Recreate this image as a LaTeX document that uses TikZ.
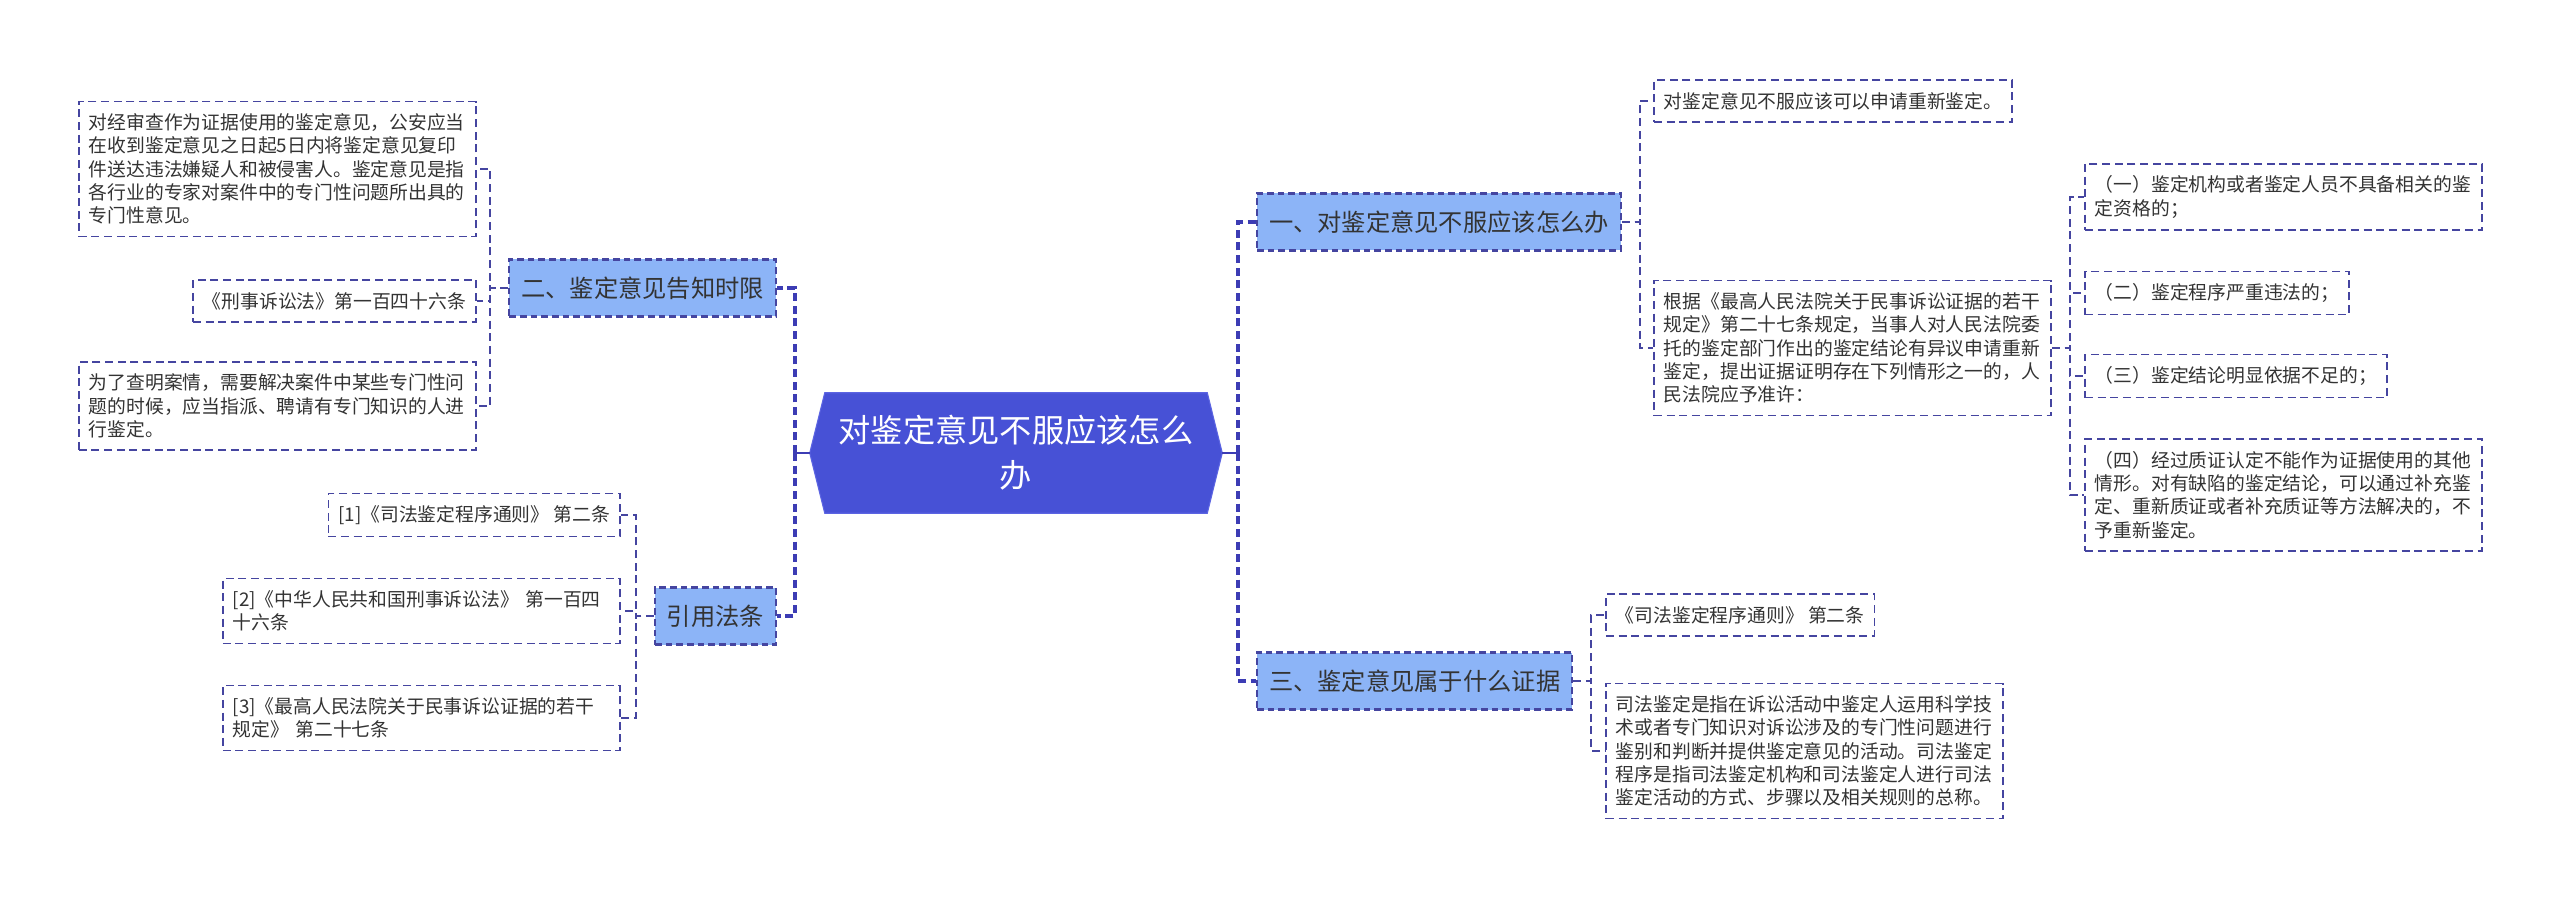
\documentclass[tikz,border=0pt]{standalone}
\usepackage{fontspec}
\usepackage{xcolor}
\usepackage{tikz}
\usetikzlibrary{calc,backgrounds,positioning}
\newfontfamily\cjk{Noto Sans CJK SC}
\definecolor{bg}{HTML}{FFFFFF}
\definecolor{rootfill}{HTML}{4751D6}
\definecolor{rootedge}{HTML}{5B64E2}
\definecolor{topicfill}{HTML}{8CB4F7}
\definecolor{edge}{HTML}{4545A0}
\definecolor{trunkc}{HTML}{3C3CB4}
\definecolor{ink}{HTML}{333333}
\tikzset{
  root/.style={minimum width=286.5pt, minimum height=90pt, inner sep=0pt, align=center, text=white, font=\cjk\fontsize{24.2pt}{33.75pt}\selectfont},
  rootshape/.style={fill=rootfill, draw=rootedge, line width=0.8pt},
  topic/.style={draw=edge, fill=topicfill, dash pattern=on 5pt off 3pt, line width=1.6pt, minimum height=42.75pt, inner xsep=9pt, text=ink, font=\cjk\fontsize{18.2pt}{22pt}\selectfont},
  leaf/.style={draw=edge, dash pattern=on 6pt off 3.5pt, line width=1.3pt, inner xsep=7.5pt, inner ysep=9pt, align=left, text=ink, font=\cjk\fontsize{14.1pt}{17.5pt}\selectfont},
  wide/.style={text width=283pt},
  trunk/.style={draw=trunkc, line width=2.3pt, dash pattern=on 6pt off 3.5pt},
  rootlink/.style={draw=trunkc, line width=1.6pt},
  link/.style={draw=edge, line width=1.3pt, dash pattern=on 6pt off 3.5pt},
}
\begin{document}
\begin{tikzpicture}[x=0.75pt, y=-0.75pt]
\useasboundingbox (0,0) rectangle (2560,898);

% centre
\node[root] (root) at (1016,453) {对鉴定意见不服应该怎么\\办};
\begin{scope}[on background layer]
\fill[bg] (0,0) rectangle (2560,898);
\filldraw[rootshape] (root.north west) -- (root.north east) -- ($(root.east)+(15,0)$)
  -- (root.south east) -- (root.south west) -- ($(root.west)+(-15,0)$) -- cycle;
\end{scope}
\coordinate (rootL) at ($(root.west)+(-15,0)$);
\coordinate (rootR) at ($(root.east)+(15,0)$);

% topics
\node[topic, anchor=east] (n2) at (777,288) {二、鉴定意见告知时限};
\node[topic, anchor=east] (n4) at (777,616) {引用法条};
\node[topic, anchor=west] (n1) at (1256,222) {一、对鉴定意见不服应该怎么办};
\node[topic, anchor=west] (n3) at (1256,681) {三、鉴定意见属于什么证据};

% left leaves
\node[leaf, wide, anchor=east] (l1) at (477,169) {对经审查作为证据使用的鉴定意见，公安应当\\在收到鉴定意见之日起5日内将鉴定意见复印\\件送达违法嫌疑人和被侵害人。鉴定意见是指\\各行业的专家对案件中的专门性问题所出具的\\专门性意见。};
\node[leaf, anchor=east] (l2) at (477,301) {《刑事诉讼法》第一百四十六条};
\node[leaf, wide, anchor=east] (l3) at (477,406) {为了查明案情，需要解决案件中某些专门性问\\题的时候，应当指派、聘请有专门知识的人进\\行鉴定。};
\node[leaf, anchor=east] (r1) at (621,515) {[1]《司法鉴定程序通则》 第二条};
\node[leaf, wide, anchor=east] (r2) at (621,611) {[2]《中华人民共和国刑事诉讼法》 第一百四\\十六条};
\node[leaf, wide, anchor=east] (r3) at (621,718) {[3]《最高人民法院关于民事诉讼证据的若干\\规定》 第二十七条};

% right leaves
\node[leaf, anchor=west] (a1) at (1653,101) {对鉴定意见不服应该可以申请重新鉴定。};
\node[leaf, wide, anchor=west] (a2) at (1653,348) {根据《最高人民法院关于民事诉讼证据的若干\\规定》第二十七条规定，当事人对人民法院委\\托的鉴定部门作出的鉴定结论有异议申请重新\\鉴定，提出证据证明存在下列情形之一的，人\\民法院应予准许：};
\node[leaf, wide, anchor=west] (b1) at (2084,197) {（一）鉴定机构或者鉴定人员不具备相关的鉴\\定资格的；};
\node[leaf, anchor=west] (b2) at (2084,293) {（二）鉴定程序严重违法的；};
\node[leaf, anchor=west] (b3) at (2084,376) {（三）鉴定结论明显依据不足的；};
\node[leaf, wide, anchor=west] (b4) at (2084,495) {（四）经过质证认定不能作为证据使用的其他\\情形。对有缺陷的鉴定结论，可以通过补充鉴\\定、重新质证或者补充质证等方法解决的，不\\予重新鉴定。};
\node[leaf, anchor=west] (c1) at (1605,615) {《司法鉴定程序通则》 第二条};
\node[leaf, wide, anchor=west] (c2) at (1605,751) {司法鉴定是指在诉讼活动中鉴定人运用科学技\\术或者专门知识对诉讼涉及的专门性问题进行\\鉴别和判断并提供鉴定意见的活动。司法鉴定\\程序是指司法鉴定机构和司法鉴定人进行司法\\鉴定活动的方式、步骤以及相关规则的总称。};

% trunks
\coordinate (tL) at (795,453);
\coordinate (tR) at (1238,453);
\draw[rootlink] (rootL) -- (tL);
\draw[rootlink] (rootR) -- (tR);
\foreach \t in {n2,n4} \draw[trunk] (tL) |- (\t.east);
\foreach \t in {n1,n3} \draw[trunk] (tR) |- (\t.west);

% branches
\coordinate (g2) at ($(n2.west)+(-18,0)$);
\coordinate (g4) at ($(n4.west)+(-18,0)$);
\coordinate (g1) at ($(n1.east)+(18,0)$);
\coordinate (g3) at ($(n3.east)+(18,0)$);
\coordinate (ga) at ($(a2.east)+(18,0)$);
\foreach \c in {l1,l2,l3} \draw[link] (n2.west) -- (g2) |- (\c.east);
\foreach \c in {r1,r2,r3} \draw[link] (n4.west) -- (g4) |- (\c.east);
\foreach \c in {a1,a2} \draw[link] (n1.east) -- (g1) |- (\c.west);
\foreach \c in {c1,c2} \draw[link] (n3.east) -- (g3) |- (\c.west);
\foreach \c in {b1,b2,b3,b4} \draw[link] (a2.east) -- (ga) |- (\c.west);
\end{tikzpicture}
\end{document}
